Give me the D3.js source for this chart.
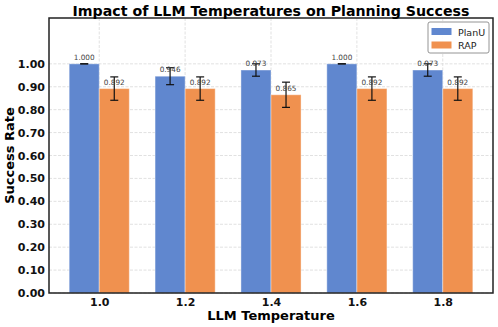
<!DOCTYPE html>
<html>
<head>
<meta charset="utf-8">
<script src="https://cdn.jsdelivr.net/npm/d3@7"></script>
<style>
  body { margin: 0; background: #fff; }
  text { font-family: "DejaVu Sans", sans-serif; }
</style>
</head>
<body>
<svg id="chart" width="498" height="327"></svg>
<script>
// data
var temperatures = ["1.0", "1.2", "1.4", "1.6", "1.8"];
var planuValues = [1.000, 0.946, 0.973, 1.000, 0.973];
var planuErrors = [0.000, 0.037, 0.027, 0.000, 0.027];
var rapValues = [0.892, 0.892, 0.865, 0.892, 0.892];
var rapErrors = [0.051, 0.051, 0.055, 0.051, 0.051];
var seriesNames = ["PlanU", "RAP"];
var yTicks = [0, 0.1, 0.2, 0.3, 0.4, 0.5, 0.6, 0.7, 0.8, 0.9, 1.0];

var COLORS = ["#6087cf", "#f0914f"];

var margin = { top: 18, right: 5, bottom: 34, left: 49 };
var W = 498, H = 327;
var w = W - margin.left - margin.right;
var h = H - margin.top - margin.bottom;

var svg = d3.select("#chart");
var g = svg.append("g").attr("transform", "translate(" + margin.left + "," + margin.top + ")");

var barW = 0.35;
var x = d3.scaleLinear().domain([-0.585, 4.585]).range([0, w]);
var y = d3.scaleLinear().domain([0, 1.2]).range([h, 0]);

// grid
g.append("g").selectAll("line").data(yTicks).enter().append("line")
    .attr("x1", 0).attr("x2", w)
    .attr("y1", function (d) { return y(d); })
    .attr("y2", function (d) { return y(d); })
    .attr("stroke", "#d9d9d9").attr("stroke-dasharray", "3,1.5").attr("stroke-width", 0.8);
g.append("g").selectAll("line").data(temperatures).enter().append("line")
    .attr("x1", function (d, i) { return x(i); })
    .attr("x2", function (d, i) { return x(i); })
    .attr("y1", 0).attr("y2", h)
    .attr("stroke", "#d9d9d9").attr("stroke-dasharray", "3,1.5").attr("stroke-width", 0.8);

var series = [
    { name: seriesNames[0], values: planuValues, errors: planuErrors, offset: -barW / 2, color: COLORS[0] },
    { name: seriesNames[1], values: rapValues, errors: rapErrors, offset: barW / 2, color: COLORS[1] }
];

series.forEach(function (s) {
    var gs = g.append("g");
    var data = s.values.map(function (v, i) { return { i: i, v: v, e: s.errors[i] }; });

    gs.selectAll("rect").data(data).enter().append("rect")
        .attr("x", function (d) { return x(d.i + s.offset - barW / 2); })
        .attr("width", x(barW) - x(0))
        .attr("y", function (d) { return y(d.v); })
        .attr("height", function (d) { return y(0) - y(d.v); })
        .attr("fill", s.color)
        .attr("stroke", "#ffffff").attr("stroke-opacity", 0.4).attr("stroke-width", 1);

    // error bars
    var eb = gs.selectAll("g.err").data(data).enter().append("g").attr("class", "err");
    eb.append("line")
        .attr("x1", function (d) { return x(d.i + s.offset); })
        .attr("x2", function (d) { return x(d.i + s.offset); })
        .attr("y1", function (d) { return y(d.v + d.e); })
        .attr("y2", function (d) { return y(d.v - d.e); })
        .attr("stroke", "#111").attr("stroke-width", 1.2);
    [1, -1].forEach(function (sign) {
        eb.append("line")
            .attr("x1", function (d) { return x(d.i + s.offset) - 4; })
            .attr("x2", function (d) { return x(d.i + s.offset) + 4; })
            .attr("y1", function (d) { return y(d.v + sign * d.e); })
            .attr("y2", function (d) { return y(d.v + sign * d.e); })
            .attr("stroke", "#111").attr("stroke-width", 1.2);
    });

    // value labels
    gs.selectAll("text").data(data).enter().append("text")
        .attr("x", function (d) { return x(d.i + s.offset); })
        .attr("y", function (d) { return y(d.v) - 4; })
        .attr("text-anchor", "middle")
        .attr("font-size", 7.3)
        .attr("fill", "#444")
        .text(function (d) { return d.v.toFixed(3); });
});

// axes
var yAxis = g.append("g")
    .call(d3.axisLeft(y).tickValues(yTicks).tickFormat(d3.format(".2f")).tickSize(0).tickPadding(4));
yAxis.select(".domain").remove();
yAxis.selectAll("text").attr("font-size", 11).attr("font-weight", "bold").attr("fill", "#111");

var xAxis = g.append("g").attr("transform", "translate(0," + h + ")")
    .call(d3.axisBottom(x).tickValues(d3.range(temperatures.length))
        .tickFormat(function (d) { return temperatures[d]; }).tickSize(0).tickPadding(5));
xAxis.select(".domain").remove();
xAxis.selectAll("text").attr("font-size", 11).attr("font-weight", "bold").attr("fill", "#111");

// frame
g.append("rect").attr("x", 0).attr("y", 0).attr("width", w).attr("height", h)
    .attr("fill", "none").attr("stroke", "#222").attr("stroke-width", 1.5);

// titles
svg.append("text").attr("x", margin.left + w / 2).attr("y", 16)
    .attr("text-anchor", "middle").attr("font-size", 14.2).attr("font-weight", "bold")
    .text("Impact of LLM Temperatures on Planning Success");
svg.append("text").attr("x", margin.left + w / 2).attr("y", 320)
    .attr("text-anchor", "middle").attr("font-size", 13).attr("font-weight", "bold")
    .text("LLM Temperature");
svg.append("text").attr("transform", "translate(14," + (margin.top + h / 2) + ") rotate(-90)")
    .attr("text-anchor", "middle").attr("font-size", 13).attr("font-weight", "bold")
    .text("Success Rate");

// legend
var leg = svg.append("g").attr("transform", "translate(428,22)");
leg.append("rect").attr("width", 61).attr("height", 31).attr("rx", 2)
    .attr("fill", "#fff").attr("fill-opacity", 0.9).attr("stroke", "#888").attr("stroke-width", 0.9);
series.forEach(function (s, i) {
    leg.append("rect").attr("x", 3.5).attr("y", 6 + i * 13.5).attr("width", 20).attr("height", 7)
        .attr("fill", s.color);
    leg.append("text").attr("x", 30).attr("y", 13.5 + i * 13.5)
        .attr("font-size", 9.5).attr("fill", "#222").text(s.name);
});
</script>
</body>
</html>
